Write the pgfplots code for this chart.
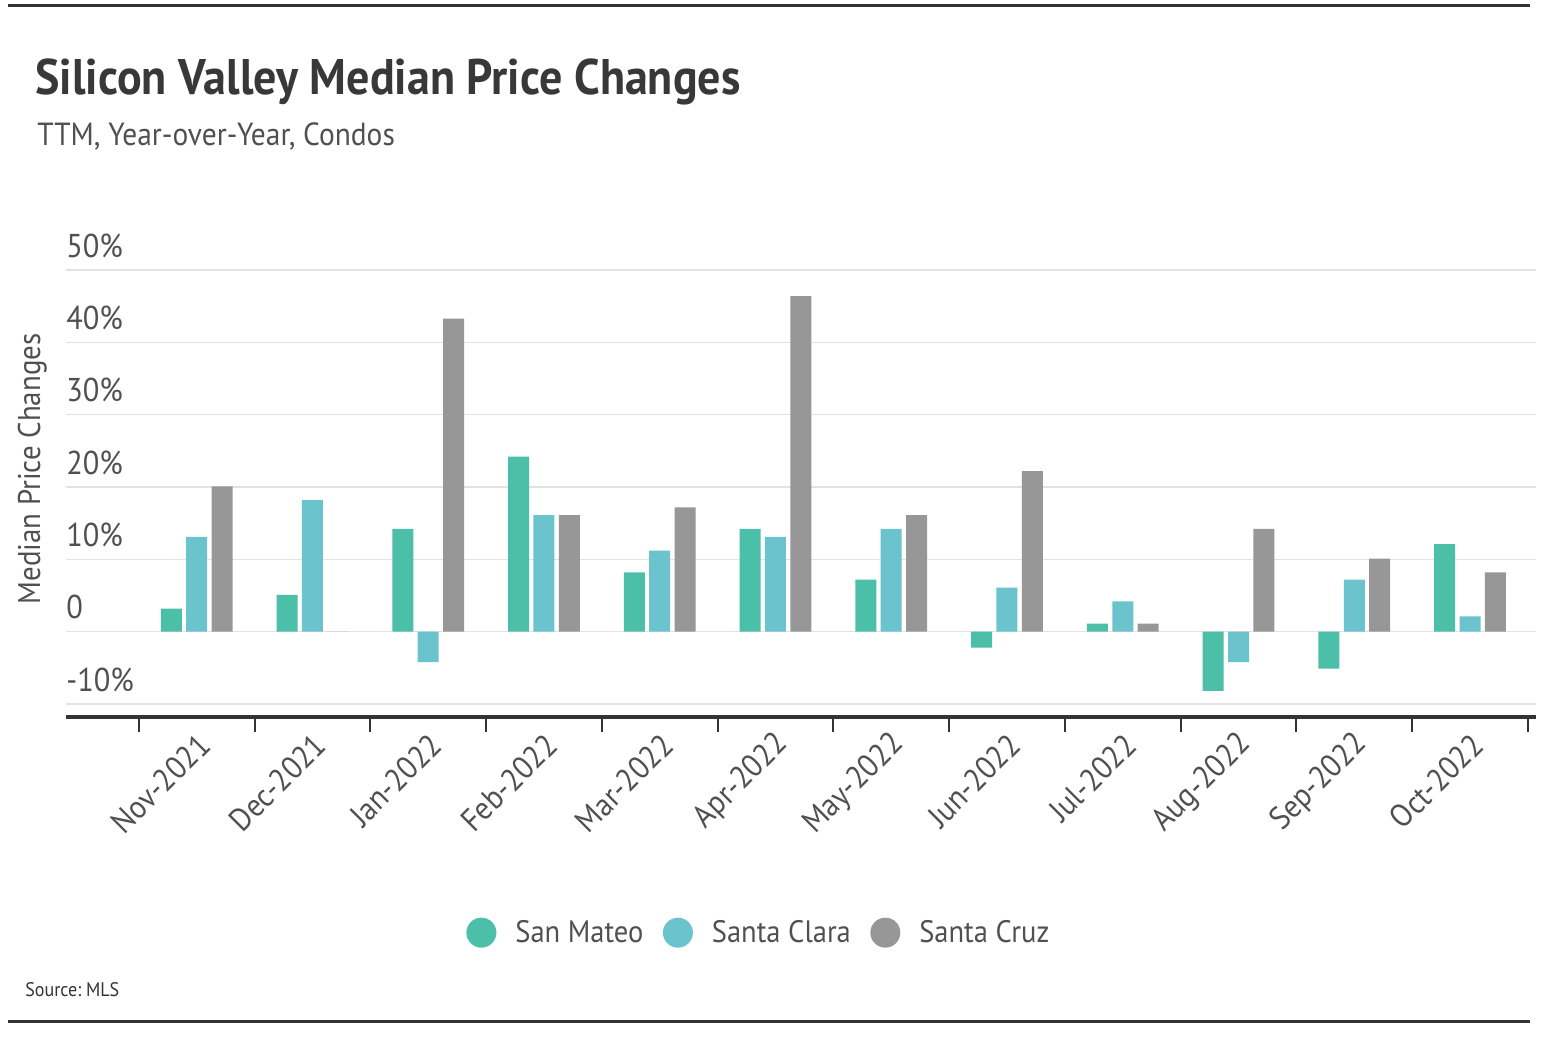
\documentclass[border=0pt]{standalone}
\usepackage{fontspec}
\setmainfont{PT Sans}[FakeStretch=0.92]
\usepackage{pgfplots}
\pgfplotsset{compat=1.18}
\definecolor{cMateo}{HTML}{4CBFA9}
\definecolor{cClara}{HTML}{6BC3CD}
\definecolor{cCruz}{HTML}{979797}
\definecolor{txt}{HTML}{505050}
\definecolor{gridc}{HTML}{E2E2E2}
\definecolor{rulec}{HTML}{333333}

\pgfplotstableread{
x mateo clara cruz
0 3.2 13.1 20.1
1 5.1 18.2 0
2 14.2 -4.2 43.3
3 24.2 16.1 16.1
4 8.2 11.2 17.2
5 14.2 13.1 46.4
6 7.2 14.2 16.1
7 -2.2 6.1 22.2
8 1.1 4.2 1.1
9 -8.2 -4.2 14.2
10 -5.1 7.2 10.1
11 12.1 2.1 8.2
}\datatable

\begin{document}
\begin{tikzpicture}
\path[use as bounding box] (0pt,0pt) rectangle (772pt,522pt);
\draw[line width=1.5pt, rulec] (4pt,519pt) -- (765pt,519pt);
\draw[line width=1.5pt, rulec] (4pt,11pt) -- (765pt,11pt);
\node[anchor=base west, inner sep=0pt, text=black!78, font=\bfseries\fontsize{25}{30}\selectfont] at (17.5pt,474.5pt) {Silicon Valley Median Price Changes};
\node[anchor=base west, inner sep=0pt, text=txt, font=\fontsize{16}{19}\selectfont] at (18.5pt,449pt) {TTM, Year-over-Year, Condos};
\node[anchor=base west, inner sep=0pt, text=black!80, font=\fontsize{9.8}{11}\selectfont] at (12.5pt,23.5pt) {Source:\ MLS};

\begin{axis}[
  at={(33pt,163.5pt)}, anchor=south west,
  scale only axis, width=735pt, height=224.2pt,
  xmin=-1.129, xmax=11.57, ymin=-11.8, ymax=50.2,
  axis lines*=left,
  y axis line style={draw=none},
  x axis line style={line width=1.6pt, rulec},
  ybar=2.2pt, bar width=10.5pt,
  ymajorgrids, grid style={gridc, line width=0.8pt},
  ytick={-10,0,10,20,30,40,50},
  yticklabels={-10\%,0,10\%,20\%,30\%,40\%,50\%},
  ytick style={draw=none},
  yticklabel style={anchor=south west, inner sep=0pt, yshift=6pt, text=txt, font=\fontsize{16.5}{18}\selectfont},
  xtick={0,...,11},
  xticklabels={Nov-2021,Dec-2021,Jan-2022,Feb-2022,Mar-2022,Apr-2022,May-2022,Jun-2022,Jul-2022,Aug-2022,Sep-2022,Oct-2022},
  major x tick style={draw=none},
  minor xtick={-0.5,0.5,...,11.5},
  minor tick length=7.5pt,
  xtick align=outside,
  minor x tick style={line width=1pt, rulec},
  xticklabel style={inner sep=0pt, xshift=4pt, yshift=-7pt, rotate=45, anchor=east, text=txt, font=\fontsize{16}{18}\selectfont},
  ylabel={Median Price Changes},
  ylabel style={at={(axis description cs:-0.023,0.553)}, anchor=center, text=txt, font=\fontsize{15.7}{18}\selectfont},
  legend columns=3,
  legend style={at={(axis description cs:0.472,-0.481)}, anchor=center, draw=none, fill=none, text=txt, font=\fontsize{15.5}{18}\selectfont,
    /tikz/every even column/.append style={column sep=7.75pt}},
]
\addplot[fill=cMateo, draw=none, legend image code/.code={\fill[cMateo] (0pt,0pt) circle (7.5pt); \path (15pt,0pt);}] table[x=x,y=mateo] {\datatable};
\addplot[fill=cClara, draw=none, legend image code/.code={\fill[cClara] (0pt,0pt) circle (7.5pt); \path (15pt,0pt);}] table[x=x,y=clara] {\datatable};
\addplot[fill=cCruz, draw=none, legend image code/.code={\fill[cCruz] (0pt,0pt) circle (7.5pt); \path (15pt,0pt);}] table[x=x,y=cruz] {\datatable};
\legend{San Mateo, Santa Clara, Santa Cruz}
\end{axis}
\end{tikzpicture}
\end{document}
